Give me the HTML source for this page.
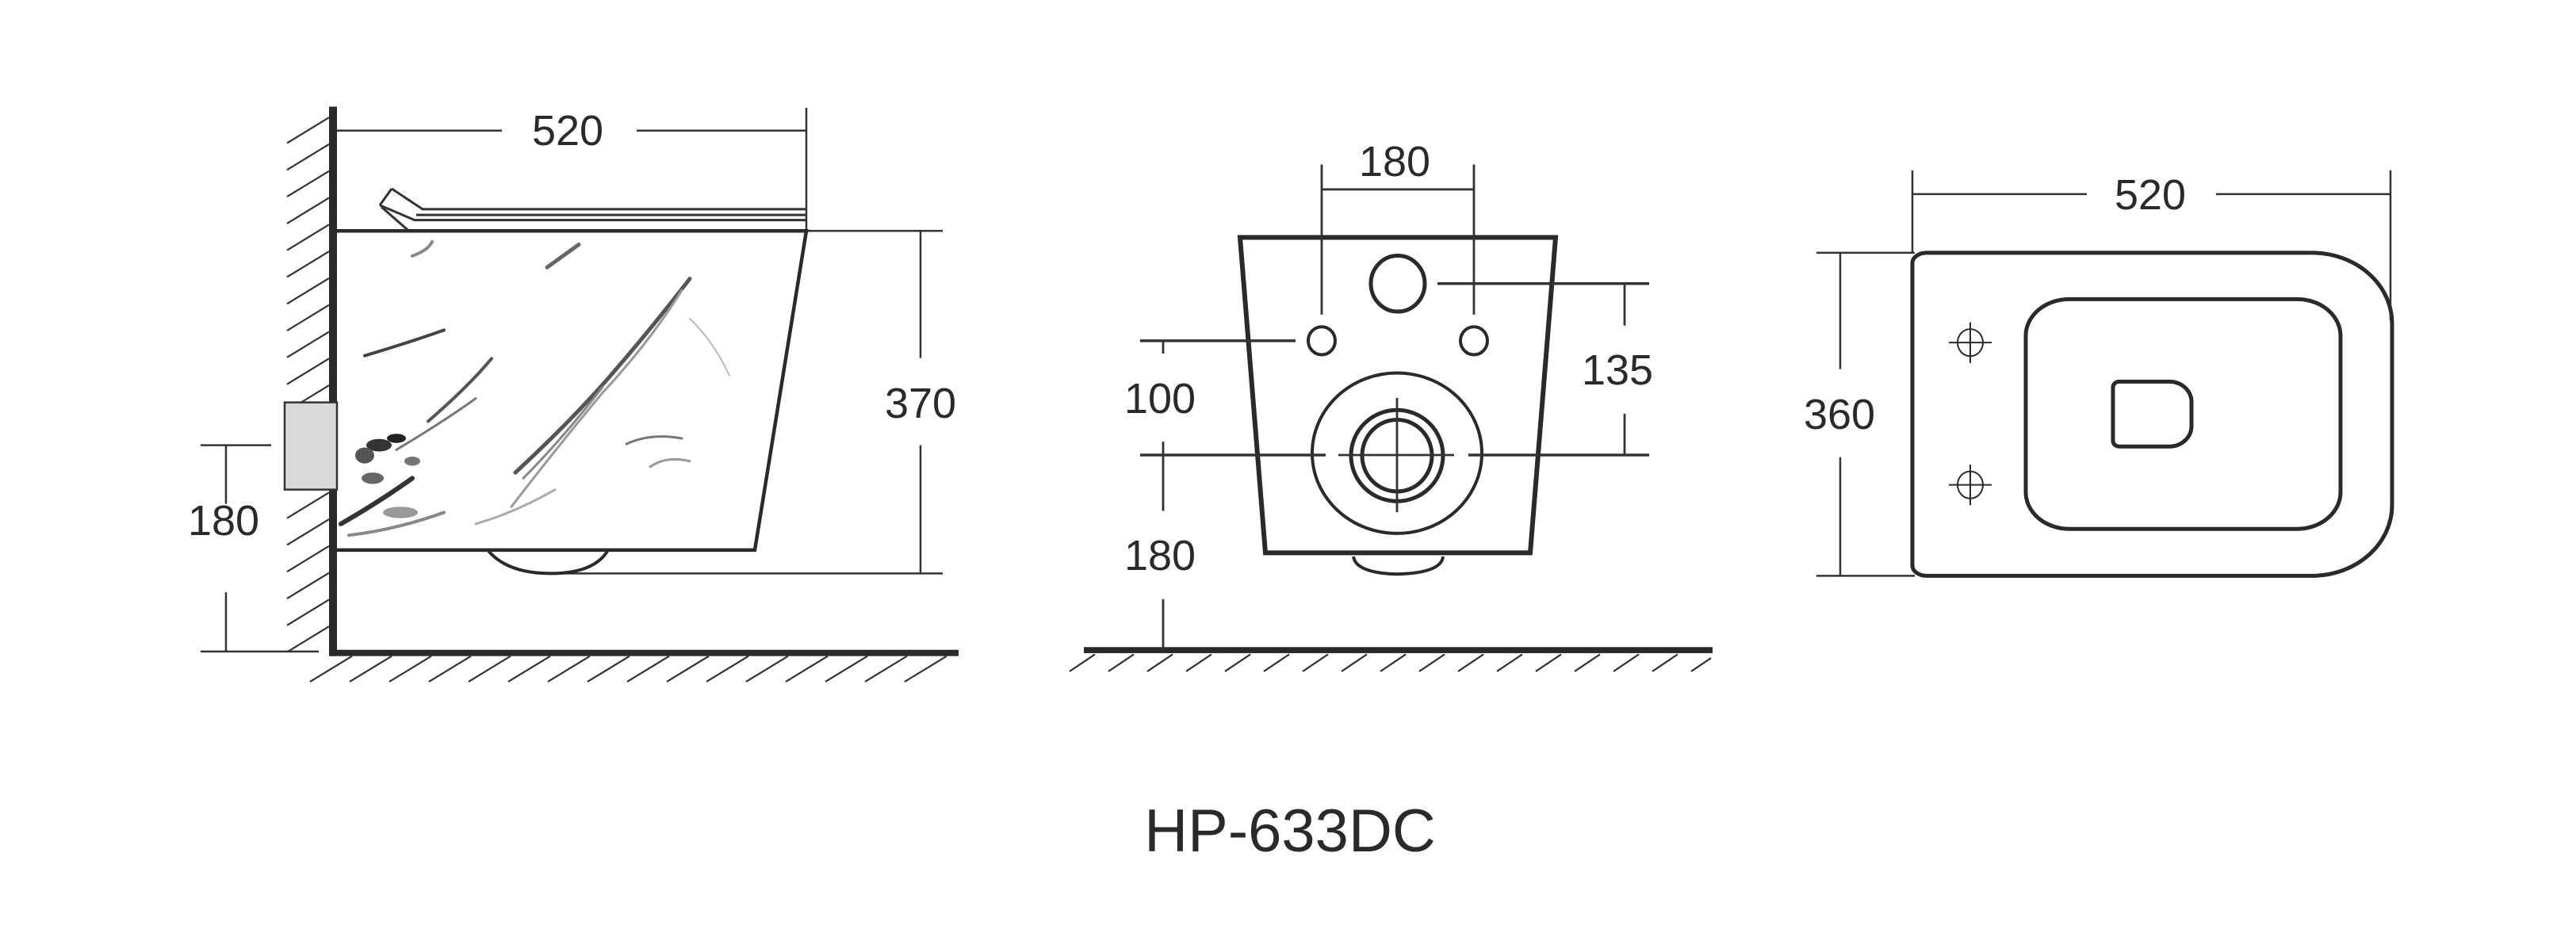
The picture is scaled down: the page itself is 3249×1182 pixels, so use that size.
<!DOCTYPE html>
<html><head><meta charset="utf-8"><style>html,body{margin:0;padding:0;background:#fff}svg{display:block}
line,path,ellipse,rect,polyline{vector-effect:non-scaling-stroke}</style></head>
<body>
<svg width="3249" height="1182" viewBox="0 0 3249 1182" xmlns="http://www.w3.org/2000/svg">
<rect width="3249" height="1182" fill="#fff"/>

<!-- ===== LEFT VIEW ===== -->
<g transform="matrix(1 0 0 0.719 0 28.1)">
<g stroke="#333" stroke-width="2.2">
<line x1="362" y1="212" x2="415" y2="167"/>
<line x1="362" y1="259" x2="415" y2="214"/>
<line x1="362" y1="306" x2="415" y2="261"/>
<line x1="362" y1="353" x2="415" y2="308"/>
<line x1="362" y1="400" x2="415" y2="355"/>
<line x1="362" y1="447" x2="415" y2="402"/>
<line x1="362" y1="494" x2="415" y2="449"/>
<line x1="362" y1="541" x2="415" y2="496"/>
<line x1="362" y1="588" x2="415" y2="543"/>
<line x1="362" y1="635" x2="415" y2="590"/>
<line x1="362" y1="682" x2="415" y2="637"/>
<line x1="362" y1="870" x2="415" y2="825"/>
<line x1="362" y1="917" x2="415" y2="872"/>
<line x1="362" y1="964" x2="415" y2="919"/>
<line x1="362" y1="1011" x2="415" y2="966"/>
<line x1="362" y1="1058" x2="415" y2="1013"/>
<line x1="362" y1="1105" x2="415" y2="1060"/>
<line x1="391" y1="1157" x2="444" y2="1112"/>
<line x1="441" y1="1157" x2="494" y2="1112"/>
<line x1="491" y1="1157" x2="544" y2="1112"/>
<line x1="541" y1="1157" x2="594" y2="1112"/>
<line x1="591" y1="1157" x2="644" y2="1112"/>
<line x1="641" y1="1157" x2="694" y2="1112"/>
<line x1="691" y1="1157" x2="744" y2="1112"/>
<line x1="741" y1="1157" x2="794" y2="1112"/>
<line x1="791" y1="1157" x2="844" y2="1112"/>
<line x1="841" y1="1157" x2="894" y2="1112"/>
<line x1="891" y1="1157" x2="944" y2="1112"/>
<line x1="941" y1="1157" x2="994" y2="1112"/>
<line x1="991" y1="1157" x2="1044" y2="1112"/>
<line x1="1041" y1="1157" x2="1094" y2="1112"/>
<line x1="1091" y1="1157" x2="1144" y2="1112"/>
<line x1="1141" y1="1157" x2="1194" y2="1112"/>
</g>
<rect x="415" y="148" width="10" height="964" fill="#2a2a2a"/>
<rect x="415" y="1101" width="794" height="11" fill="#2a2a2a"/>
<g stroke="#333" stroke-width="2.5" fill="none">
<line x1="425" y1="190" x2="633" y2="190"/>
<line x1="803" y1="190" x2="1017" y2="190"/>
<line x1="1017" y1="150" x2="1017" y2="366"/>
<polyline points="494,292 533,328 1017,328" stroke-width="3"/>
<polyline points="479,321 523,347 1017,347" stroke-width="3"/>
<line x1="494" y1="292" x2="479" y2="321" stroke-width="3"/>
<line x1="481" y1="324" x2="514" y2="364" stroke-width="3"/>
<line x1="525" y1="338" x2="1017" y2="338" stroke-width="3"/>
<line x1="1017" y1="366" x2="1189" y2="366"/>
<line x1="697" y1="967" x2="1189" y2="967"/>
<line x1="1161" y1="366" x2="1161" y2="589"/>
<line x1="1161" y1="742" x2="1161" y2="967"/>
<line x1="253" y1="742" x2="342" y2="742"/>
<line x1="253" y1="1104" x2="402" y2="1104"/>
<line x1="285" y1="742" x2="285" y2="845"/>
<line x1="285" y1="1000" x2="285" y2="1104"/>
</g>
<g fill="none" stroke="#555" stroke-linecap="round">
<path d="M650 790 Q720 700 770 620 Q820 540 870 450" stroke-width="5"/>
<path d="M660 800 Q710 730 760 640" stroke-width="3" stroke="#888"/>
<path d="M645 850 Q700 750 760 650 Q820 560 860 470" stroke-width="3" stroke="#999"/>
<path d="M540 700 Q590 640 620 590" stroke-width="4"/>
<path d="M500 750 Q560 700 600 660" stroke-width="3" stroke="#777"/>
<path d="M460 585 Q520 560 560 540" stroke-width="4" stroke="#444"/>
<path d="M690 430 Q710 410 730 390" stroke-width="5" stroke="#666"/>
<path d="M520 410 Q540 400 545 385" stroke-width="4" stroke="#888"/>
<path d="M790 740 Q820 720 860 730" stroke-width="3" stroke="#777"/>
<path d="M820 780 Q840 760 870 770" stroke-width="3" stroke="#999"/>
<path d="M430 880 Q480 840 520 800" stroke-width="6" stroke="#333"/>
<path d="M440 900 Q500 890 560 860" stroke-width="4" stroke="#888"/>
<path d="M600 880 Q650 860 700 820" stroke-width="3" stroke="#aaa"/>
<path d="M870 520 Q900 560 920 620" stroke-width="2" stroke="#bbb"/>
</g>
<g fill="#333">
<ellipse cx="478" cy="742" rx="16" ry="11"/>
<ellipse cx="500" cy="730" rx="12" ry="8" fill="#222"/>
<ellipse cx="460" cy="760" rx="12" ry="14" fill="#555"/>
<ellipse cx="470" cy="800" rx="14" ry="10" fill="#666"/>
<ellipse cx="520" cy="770" rx="10" ry="8" fill="#777"/>
<ellipse cx="505" cy="860" rx="22" ry="10" fill="#999"/>
</g>
<path d="M425 366 L1017 366 L952 926 L425 926" fill="none" stroke="#2a2a2a" stroke-width="4.5"/>
<path d="M615 926 Q640 968 697 967 Q750 966 767 926" fill="none" stroke="#2a2a2a" stroke-width="4"/>
<rect x="359" y="667" width="66" height="153" fill="#d9d9d9" stroke="#333" stroke-width="2.5"/>
</g>

<!-- ===== MIDDLE VIEW ===== -->
<g transform="matrix(1 0 0 0.7667 0 35)">
<g stroke="#333" stroke-width="2.2">
<line x1="1349" y1="1059" x2="1381" y2="1031"/>
<line x1="1398" y1="1059" x2="1430" y2="1031"/>
<line x1="1447" y1="1059" x2="1479" y2="1031"/>
<line x1="1496" y1="1059" x2="1528" y2="1031"/>
<line x1="1545" y1="1059" x2="1577" y2="1031"/>
<line x1="1594" y1="1059" x2="1626" y2="1031"/>
<line x1="1643" y1="1059" x2="1675" y2="1031"/>
<line x1="1692" y1="1059" x2="1724" y2="1031"/>
<line x1="1741" y1="1059" x2="1773" y2="1031"/>
<line x1="1790" y1="1059" x2="1822" y2="1031"/>
<line x1="1839" y1="1059" x2="1871" y2="1031"/>
<line x1="1888" y1="1059" x2="1920" y2="1031"/>
<line x1="1937" y1="1059" x2="1969" y2="1031"/>
<line x1="1986" y1="1059" x2="2018" y2="1031"/>
<line x1="2035" y1="1059" x2="2067" y2="1031"/>
<line x1="2084" y1="1059" x2="2116" y2="1031"/>
<line x1="2133" y1="1059" x2="2158" y2="1037"/>
</g>
<rect x="1367" y="1019" width="793" height="10" fill="#2a2a2a"/>
<g stroke="#2a2a2a" fill="none">
<path d="M1564 345 L1962 345 L1930 864 L1596 864 Z" stroke-width="6"/>
<path d="M1707 870 Q1710 897 1762 899 Q1818 897 1820 870" stroke-width="4"/>
<ellipse cx="1763" cy="421" rx="34" ry="46" stroke-width="5"/>
<ellipse cx="1667" cy="515" rx="17" ry="23" stroke-width="4"/>
<ellipse cx="1859" cy="515" rx="17" ry="23" stroke-width="4"/>
<ellipse cx="1762" cy="700" rx="107" ry="132" stroke-width="4"/>
<ellipse cx="1762" cy="704" rx="58" ry="75" stroke-width="5"/>
<ellipse cx="1762" cy="704" rx="44" ry="59" stroke-width="5"/>
</g>
<g stroke="#333" stroke-width="2.8" fill="none">
<line x1="1667" y1="225" x2="1667" y2="472"/>
<line x1="1859" y1="225" x2="1859" y2="472"/>
<line x1="1667" y1="266" x2="1859" y2="266"/>
<line x1="1438" y1="515" x2="1634" y2="515" stroke-width="3.5"/>
<line x1="1467" y1="515" x2="1467" y2="536"/>
<line x1="1813" y1="421" x2="2080" y2="421" stroke-width="3.5"/>
<line x1="2049" y1="421" x2="2049" y2="490"/>
<line x1="2049" y1="635" x2="2049" y2="703"/>
<line x1="1438" y1="703" x2="1672" y2="703" stroke-width="3.5"/>
<line x1="1688" y1="703" x2="1834" y2="703"/>
<line x1="1852" y1="703" x2="2080" y2="703" stroke-width="3.5"/>
<line x1="1762" y1="609" x2="1762" y2="797"/>
<line x1="1467" y1="681" x2="1467" y2="795"/>
<line x1="1467" y1="940" x2="1467" y2="1024"/>
</g>
</g>

<!-- ===== RIGHT VIEW ===== -->
<g transform="matrix(1 0 0 0.7123 0 51.8)">
<g stroke="#333" stroke-width="2.5" fill="none">
<line x1="2412" y1="271" x2="2632" y2="271"/>
<line x1="2795" y1="271" x2="3015" y2="271"/>
<line x1="2412" y1="229" x2="2412" y2="375"/>
<line x1="3015" y1="229" x2="3015" y2="495"/>
<line x1="2291" y1="375" x2="2415" y2="375"/>
<line x1="2291" y1="947" x2="2415" y2="947"/>
<line x1="2321" y1="375" x2="2321" y2="581"/>
<line x1="2321" y1="737" x2="2321" y2="947"/>
</g>
<g stroke="#2a2a2a" stroke-width="5" fill="none">
<path d="M2430 375 L2916 375 A101 125 0 0 1 3017 500 L3017 822 A101 125 0 0 1 2916 947 L2430 947 A18 18 0 0 1 2412 929 L2412 393 A18 18 0 0 1 2430 375 Z"/>
<rect x="2555" y="457" width="397" height="407" rx="55" ry="65"/>
<path d="M2673 603 L2736 603 A28 36 0 0 1 2764 639 L2764 682 A28 36 0 0 1 2736 718 L2673 718 A8 10 0 0 1 2665 708 L2665 613 A8 10 0 0 1 2673 603 Z"/>
</g>
<g stroke="#2a2a2a" stroke-width="2" fill="none">
<ellipse cx="2485" cy="534" rx="16" ry="24"/>
<line x1="2458" y1="534" x2="2512" y2="534"/>
<line x1="2485" y1="498" x2="2485" y2="570"/>
<ellipse cx="2485" cy="786" rx="16" ry="24"/>
<line x1="2458" y1="786" x2="2512" y2="786"/>
<line x1="2485" y1="750" x2="2485" y2="822"/>
</g>
</g>

<g font-family="Liberation Sans, Arial, sans-serif" fill="#2a2a2a" font-size="54" text-anchor="middle">
<text x="716" y="183">520</text>
<text x="1161" y="527">370</text>
<text x="282" y="675">180</text>
<text x="1759" y="222">180</text>
<text x="2040" y="485">135</text>
<text x="1463" y="521">100</text>
<text x="1463" y="719">180</text>
<text x="2712" y="264">520</text>
<text x="2320" y="541">360</text>
<text x="1627" y="1074" font-size="76">HP-633DC</text>
</g>
</svg>
</body></html>
